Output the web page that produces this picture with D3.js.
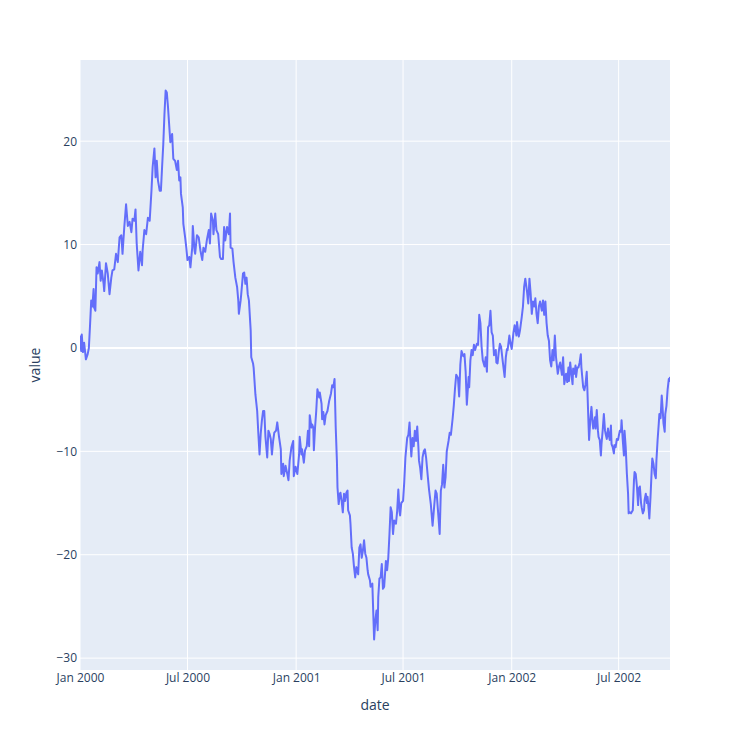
<!DOCTYPE html>
<html>
<head>
<meta charset="utf-8">
<script src="https://cdn.jsdelivr.net/npm/d3@7"></script>
<style>
  html, body { margin: 0; padding: 0; background: #fff; }
  text { font-family: "Open Sans", Verdana, Arial, sans-serif; }
</style>
</head>
<body>
<svg id="chart" width="750" height="750"></svg>
<script>
// ---- data ----
const startDate = "2000-01-01";
const lastDay = 999;
const dayOffsets = [
  0,2,3,5,7,10,13,15,17,19,21,23,24,26,28,30,33,35,37,40,41,44,47,50,53,55,58,61,64,67,70,72,75,78,81,84,87,89,92,94,96,99,102,105,106,109,112,115,118,121,123,126,128,130,132,135,137,139,141,143,145,147,149,152,153,156,158,
  161,164,166,168,170,171,174,175,178,180,182,185,187,190,191,194,195,198,201,204,207,209,212,215,218,220,222,225,226,229,231,234,237,239,242,244,246,249,252,254,255,258,260,263,266,268,269,272,273,276,278,280,282,284,286,289,290,293,294,297,300,302,304,306,308,310,312,314,317,319,321,
  323,325,327,329,332,334,337,340,341,344,345,348,351,353,355,358,361,362,365,368,371,372,375,376,379,381,384,386,388,389,392,393,395,396,398,400,402,405,406,409,410,412,414,416,419,422,425,427,429,431,433,435,436,438,440,441,443,445,447,449,451,453,454,457,458,460,462,464,466,468,471,473,475,477,479,481,483,485,487,488,491,
  492,495,497,498,500,502,504,505,507,509,511,513,515,518,520,522,524,526,528,530,532,535,537,539,541,542,544,547,549,551,554,556,558,559,561,563,565,567,569,571,573,574,576,578,580,582,584,586,589,591,594,597,600,602,604,607,609,611,613,615,617,619,621,624,626,628,631,633,635,637,640,642,644,646,649,651,653,
  655,658,659,661,663,665,667,669,672,674,676,678,680,682,685,687,689,691,693,695,697,699,701,704,705,707,709,711,713,716,719,721,723,724,727,729,731,734,736,739,740,743,745,748,750,752,754,757,759,761,763,765,767,769,771,773,775,777,779,782,784,786,788,790,792,794,796,798,800,802,804,806,809,811,813,816,818,820,822,
  823,825,827,828,830,832,834,835,837,839,840,842,844,846,848,849,852,854,856,858,859,861,862,864,866,868,869,872,873,875,877,878,880,882,883,885,887,889,890,892,894,895,897,899,900,902,904,905,907,909,911,912,914,916,917,919,921,922,924,926,928,929,931,933,934,936,938,939,941,943,945,946,948,950,951,953,955,956,958,960,961,963,964,966,968,969,971,973,975,976,978,980,981,983,985,986,988,990,991,993,995,997,998,999
];
const values = [
  1.2,-0.3,1.3,-0.4,0.5,-1.1,-0.6,0,2.2,4.6,4.0,5.7,3.9,3.6,7.8,7.2,8.3,6.5,7.5,6.2,5.5,8.2,7.2,5.2,6.8,7.5,7.6,9.1,8.3,10.7,10.9,9.1,11.7,13.9,11.8,12.2,11.2,12.5,12.3,13.4,10.1,7.5,9.3,8.0,9.4,11.4,11.0,12.6,12.3,15.2,17.5,19.3,16.5,18.1,16.2,15.2,15.2,17.5,19.7,22.6,24.9,24.7,23.3,20.7,19.9,20.7,18.3,
  18.1,17.2,18.1,16.2,16.5,14.9,13.6,12.0,10.7,9.7,8.5,8.8,7.8,9.7,11.8,9.4,9.1,10.9,10.7,9.4,8.5,9.7,9.3,10.5,11.4,10.1,13.0,12.3,11.0,13.0,11.4,11.0,8.8,8.6,8.6,11.7,10.4,11.7,11.0,13.0,9.7,9.6,8.3,6.8,5.9,4.6,3.3,4.6,5.2,7.2,7.3,6.2,6.8,5.2,4.6,1.7,-0.9,-1.5,-1.9,-4.5,-6.1,-8.3,-10.3,-8.3,-7.0,-6.1,-6.1,-8.6,-10.6,-8.0,-8.3,
  -8.8,-10.3,-9.0,-8.2,-8.0,-7.2,-8.6,-9.8,-12.2,-11.2,-12.4,-11.4,-12.2,-12.8,-10.9,-9.6,-9.0,-12.4,-11.5,-12.2,-10.3,-8.6,-10.3,-9.8,-11.1,-9.9,-9.5,-8.0,-9.5,-6.5,-7.7,-7.4,-7.7,-9.9,-7.7,-6.1,-4.0,-4.8,-4.3,-5.4,-6.9,-6.2,-7.4,-6.5,-6.1,-5.1,-4.4,-3.6,-3.8,-3.0,-7.7,-10.9,-13.5,-15.1,-14.1,-14.0,-14.8,-15.9,-14.1,-14.8,-14.0,-13.8,-15.7,-16.2,-17.0,-19.3,-19.9,-21.2,-22.2,-21.2,-21.9,-19.3,-19.0,-20.3,-19.6,-18.6,-19.9,-20.3,-21.5,-21.9,-22.5,
  -23.1,-22.8,-26.4,-28.2,-26.4,-25.4,-27.3,-24.1,-22.3,-22.2,-20.9,-23.3,-23.1,-20.6,-21.5,-20.3,-18.0,-15.4,-15.9,-18.0,-16.7,-17.0,-15.8,-13.7,-15.8,-16.2,-15.0,-14.8,-13.0,-10.6,-8.7,-8.4,-7.2,-8.4,-10.5,-8.7,-9.5,-8.0,-9.0,-7.6,-9.6,-10.9,-11.6,-12.7,-10.6,-10.0,-9.8,-10.6,-12.5,-13.7,-15.1,-17.2,-15.1,-13.8,-14.1,-16.4,-18.0,-13.8,-13.2,-11.3,-13.5,-12.5,-10.0,-9.0,-8.2,-8.4,-6.8,-5.5,-3.9,-2.6,-2.9,-4.7,-1.6,-0.3,-0.8,-0.6,-2.3,
  -5.5,-2.8,-3.8,-1.2,-0.2,-0.7,0.3,-0.2,0.4,0.3,3.2,2.4,0.1,-1.2,-1.8,-0.9,-2.3,2.0,2.2,3.6,1.5,1.2,-0.7,-0.2,-1.4,-1.5,-0.4,0.4,0.1,-1.4,-2.8,-0.9,-0.1,-0.2,1.2,0.4,-0.1,1.5,2.2,1.2,2.5,1.1,1.7,3.0,4.0,5.9,6.7,5.4,4.3,6.7,5.3,3.3,4.5,4.0,4.8,3.3,2.4,4.0,4.5,3.6,4.6,3.2,4.5,2.4,1.2,0.7,-1.2,-1.8,-0.2,-1.2,1.2,-0.9,-2.5,-1.8,-1.4,-2.6,-0.9,-3.5,-2.8,
  -2.5,-3.3,-1.9,-3.2,-1.4,-2.5,-3.5,-2.0,-2.5,-1.7,-2.8,-1.9,-1.9,-1.4,-0.6,-1.9,-3.8,-4.1,-3.5,-2.3,-3.8,-7.3,-8.9,-7.0,-5.7,-7.3,-7.8,-6.7,-7.8,-6.0,-8.0,-8.6,-8.9,-10.4,-9.3,-8.0,-6.4,-8.0,-8.3,-8.8,-7.8,-8.3,-8.9,-7.5,-9.3,-9.6,-10.2,-9.4,-9.6,-8.8,-8.9,-8.6,-8.0,-8.1,-7.0,-8.9,-10.4,-8.0,-9.6,-12.2,-14.1,-16.0,-15.9,-16.0,-15.9,-15.7,-12.8,-12.0,-12.2,-13.4,-15.2,-13.6,-13.4,-15.0,-15.4,-16.0,-15.7,-14.7,-14.1,-15.0,-14.4,-15.7,-16.5,-14.4,-11.8,-10.7,-11.2,-12.2,-12.6,-10.9,-8.9,-7.3,-6.4,-6.8,-4.6,-5.4,-7.3,-8.1,-6.4,-5.6,-4.0,-3.0,-3.2,-2.8
];
const xTickDates = ["2000-01-01","2000-07-01","2001-01-01","2001-07-01","2002-01-01","2002-07-01"];
const yTickValues = [-30, -20, -10, 0, 10, 20];
const xTitle = "date";
const yTitle = "value";

// ---- build ----
const W = 750, H = 750;
const margin = {left: 80, right: 80, top: 60, bottom: 80};
const pw = W - margin.left - margin.right;
const ph = H - margin.top - margin.bottom;

const parse = d3.utcParse("%Y-%m-%d");
const t0 = parse(startDate);
const data = dayOffsets.map((d, i) => ({date: d3.utcDay.offset(t0, d), value: values[i]}));

const svg = d3.select("#chart");
const x = d3.scaleUtc()
  .domain([t0, d3.utcDay.offset(t0, lastDay)])
  .range([margin.left, margin.left + pw]);
const pad = ph * 0.05;
const y = d3.scaleLinear()
  .domain(d3.extent(values))
  .range([margin.top + ph - pad, margin.top + pad]);

svg.append("rect")
  .attr("x", margin.left).attr("y", margin.top)
  .attr("width", pw).attr("height", ph)
  .attr("fill", "#E5ECF6");

svg.append("clipPath").attr("id", "plotclip")
  .append("rect").attr("x", margin.left).attr("y", margin.top)
  .attr("width", pw).attr("height", ph);

const xTicks = xTickDates.map(parse);
// grid lines
svg.append("g").selectAll("line").data(xTicks).join("line")
  .attr("x1", d => x(d)).attr("x2", d => x(d))
  .attr("y1", margin.top).attr("y2", margin.top + ph)
  .attr("stroke", "#fff").attr("stroke-width", 1);
svg.append("g").selectAll("line").data(yTickValues).join("line")
  .attr("x1", margin.left).attr("x2", margin.left + pw)
  .attr("y1", d => y(d)).attr("y2", d => y(d))
  .attr("stroke", "#fff").attr("stroke-width", d => d === 0 ? 2 : 1);

// line
const line = d3.line().x(d => x(d.date)).y(d => y(d.value));
svg.append("path").datum(data)
  .attr("clip-path", "url(#plotclip)")
  .attr("d", line)
  .attr("fill", "none")
  .attr("stroke", "#636efa")
  .attr("stroke-width", 2)
  .attr("stroke-linejoin", "round");

// axes
const fmtX = d3.utcFormat("%b %Y");
const xAxis = d3.axisBottom(x).tickValues(xTicks).tickFormat(fmtX).tickSize(0).tickPadding(0);
const gx = svg.append("g").attr("transform", `translate(0,${margin.top + ph})`).call(xAxis);
gx.select(".domain").remove();
gx.selectAll("text")
  .attr("y", 12).attr("dy", "0")
  .attr("fill", "#2a3f5f").style("font-size", "12px")
  .style("font-family", '"Open Sans", Verdana, Arial, sans-serif');

const fmtY = v => (v < 0 ? "\u2212" + Math.abs(v) : String(v));
const yAxis = d3.axisLeft(y).tickValues(yTickValues).tickFormat(fmtY).tickSize(0).tickPadding(3);
const gy = svg.append("g").attr("transform", `translate(${margin.left},0)`).call(yAxis);
gy.select(".domain").remove();
gy.selectAll("text")
  .attr("fill", "#2a3f5f").style("font-size", "12px")
  .style("font-family", '"Open Sans", Verdana, Arial, sans-serif');

svg.append("text")
  .attr("x", margin.left + pw / 2).attr("y", 710)
  .attr("text-anchor", "middle")
  .attr("fill", "#2a3f5f").style("font-size", "14px")
  .text(xTitle);
svg.append("text")
  .attr("transform", `translate(40,${margin.top + ph / 2}) rotate(-90)`)
  .attr("text-anchor", "middle")
  .attr("fill", "#2a3f5f").style("font-size", "14px")
  .text(yTitle);
</script>
</body>
</html>
